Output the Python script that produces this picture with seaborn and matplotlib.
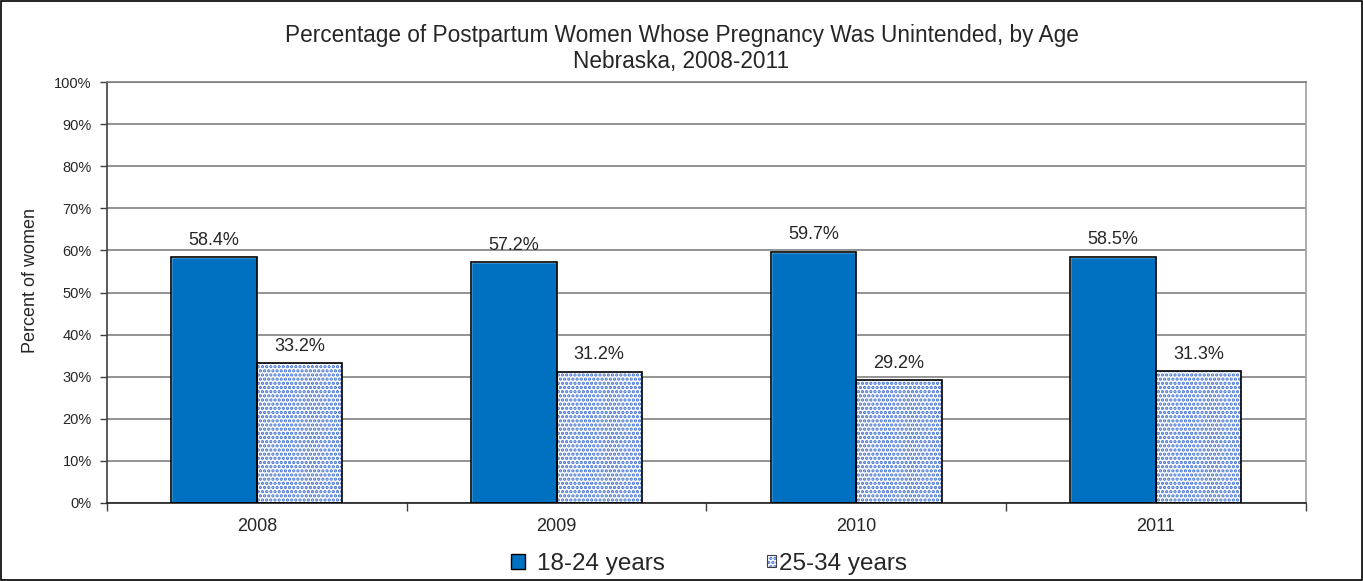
import pandas as pd
import matplotlib.pyplot as plt
import seaborn as sns
from matplotlib.patches import Rectangle, Patch

years = ['2008', '2009', '2010', '2011']
age_groups = ['18-24 years', '25-34 years']
pct_18_24 = [58.4, 57.2, 59.7, 58.5]
pct_25_34 = [33.2, 31.2, 29.2, 31.3]

df = pd.DataFrame({
    'year': years * 2,
    'age': [age_groups[0]] * 4 + [age_groups[1]] * 4,
    'pct': pct_18_24 + pct_25_34,
})

sns.set_style('white')
plt.rcParams['font.family'] = ['Liberation Sans', 'DejaVu Sans']
plt.rcParams['hatch.linewidth'] = 1.6

fig = plt.figure(figsize=(13.63, 5.81), dpi=100)
ax = fig.add_axes([0.0785, 0.1343, 0.8795, 0.7245])

blue = '#0070C0'
dot_blue = '#3f6fd0'
sns.barplot(data=df, x='year', y='pct', hue='age', palette=[blue, 'white'],
            width=0.57, gap=0, saturation=1, legend=False, ax=ax)

# dotted bars: blue dots on white, black outline drawn over the top
for bar in ax.containers[1]:
    bar.set_hatch('....')
    bar.set_edgecolor(dot_blue)
    bar.set_linewidth(0)
for cont in ax.containers:
    for bar in cont:
        ax.add_patch(Rectangle(bar.get_xy(), bar.get_width(), bar.get_height(),
                               fill=False, ec='black', lw=1.2, zorder=3))
    ax.bar_label(cont, labels=[f'{v:.1f}%' for v in cont.datavalues],
                 padding=6, fontsize=13)

ax.set_ylim(0, 100)
ax.set_xlim(-0.5, 3.5)
ax.set_yticks(range(0, 101, 10))
ax.set_yticklabels([f'{t}%' for t in range(0, 101, 10)], fontsize=10.5)
ax.yaxis.grid(True, color='#808080', lw=1.2)
ax.set_axisbelow(True)
ax.tick_params(axis='y', length=5, width=1, color='#404040', left=True, pad=6)
ax.tick_params(axis='x', which='major', length=0, labelsize=13, pad=11)
ax.set_xticks([-0.5, 0.5, 1.5, 2.5, 3.5], minor=True)
ax.tick_params(axis='x', which='minor', length=6, width=1, color='#404040', bottom=True)
ax.set_xlabel('')
ax.set_ylabel('Percent of women', fontsize=13)
ax.yaxis.set_label_coords(-0.057, 0.528)

ax.spines['left'].set_color('#404040')
ax.spines['bottom'].set_color('#202020')
ax.spines['top'].set_color('#808080')
ax.spines['right'].set_color('#a0a0a0')
for s in ax.spines.values():
    s.set_linewidth(1.2)

fig.text(0.5, 0.9277, 'Percentage of Postpartum Women Whose Pregnancy Was Unintended, by Age',
         ha='center', va='baseline', fontsize=16.3)
fig.text(0.5, 0.883, 'Nebraska, 2008-2011', ha='center', va='baseline', fontsize=16.3)

leg1 = fig.legend([Patch(facecolor=blue, edgecolor='black', lw=1)], [age_groups[0]],
                  loc='center left', bbox_to_anchor=(511 / 1363, 0.029), frameon=False,
                  fontsize=17.5, handlelength=0.58, handleheight=0.58,
                  handletextpad=0.49, borderpad=0, borderaxespad=0)
dotted = (Patch(facecolor='white', edgecolor=dot_blue, hatch='....', lw=0),
          Patch(facecolor='none', edgecolor='#404040', lw=0.8))
leg2 = fig.legend([dotted], [age_groups[1]],
                  loc='center left', bbox_to_anchor=(767 / 1363, 0.029), frameon=False,
                  fontsize=17.5, handlelength=0.38, handleheight=0.38,
                  handletextpad=0.1, borderpad=0, borderaxespad=0)

fig.patches.append(Rectangle((0.001, 0.002), 0.998, 0.996, transform=fig.transFigure,
                             fill=False, ec='black', lw=1.2))

fig.savefig('out.png', dpi=100)
